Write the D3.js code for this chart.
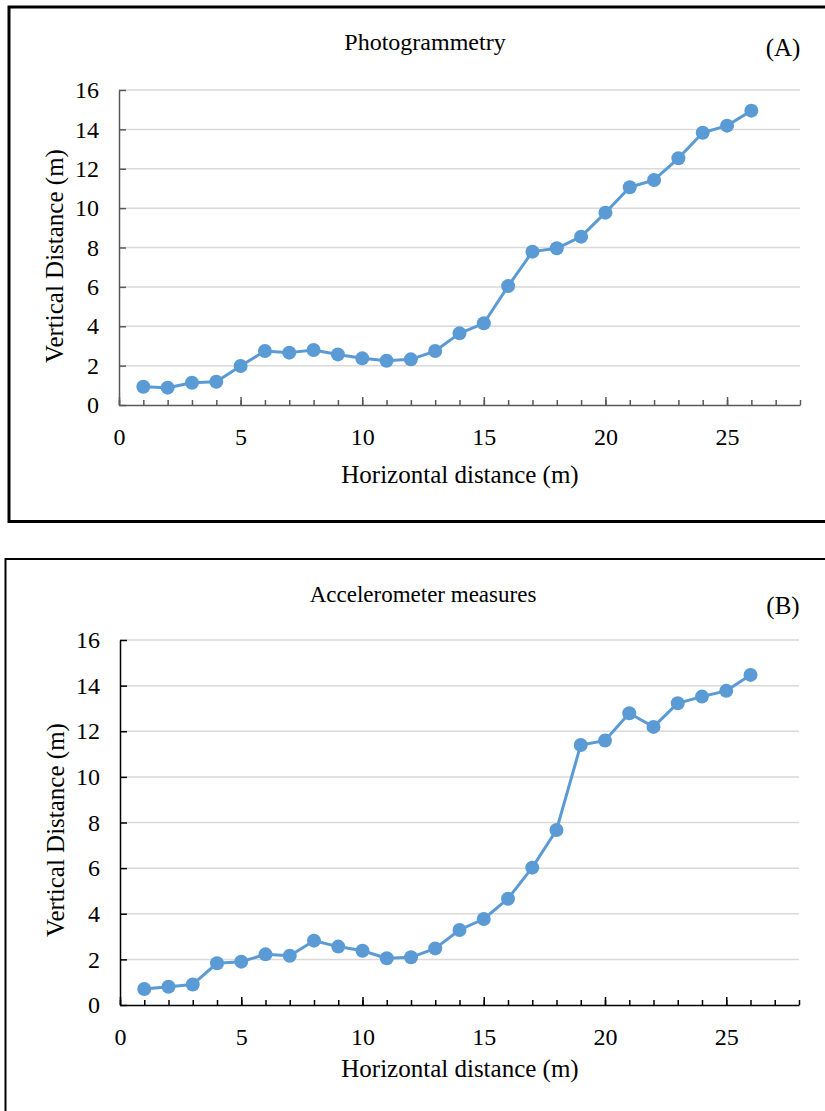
<!DOCTYPE html>
<html>
<head>
<meta charset="utf-8">
<script src="https://cdn.jsdelivr.net/npm/d3@7/dist/d3.min.js"></script>
<style>
  html, body { margin: 0; padding: 0; background: #fff; }
  svg { display: block; }
  text { font-family: "Liberation Serif", "Times New Roman", serif; fill: #000; }
</style>
</head>
<body>
<svg id="chart" width="825" height="1111"></svg>
<script>
// Station positions along the profile (m)
const stations = [1, 2, 3, 4, 5, 6, 7, 8, 9, 10, 11, 12, 13, 14, 15, 16, 17, 18, 19, 20, 21, 22, 23, 24, 25, 26];

// Vertical distance from photogrammetry (m)
const photogrammetry = [0.93, 0.88, 1.13, 1.18, 1.98, 2.74, 2.66, 2.79, 2.57, 2.37, 2.25, 2.32, 2.74,
  3.64, 4.15, 6.04, 7.79, 7.96, 8.55, 9.77, 11.06, 11.43, 12.53, 13.83, 14.19, 14.95];

// Vertical distance from accelerometer measures (m)
const accelerometer = [0.70, 0.80, 0.90, 1.83, 1.90, 2.22, 2.16, 2.82, 2.56, 2.38, 2.05, 2.09, 2.48,
  3.29, 3.77, 4.66, 6.02, 7.67, 11.40, 11.59, 12.79, 12.19, 13.23, 13.52, 13.77, 14.47];

// Axis ticks
const yTickValues = [0, 2, 4, 6, 8, 10, 12, 14, 16];
const xTickLabels = [0, 5, 10, 15, 20, 25];
const xDomain = [0, 28];
const yDomain = [0, 16];

const svg = d3.select("#chart");
svg.append("rect").attr("width", 825).attr("height", 1111).attr("fill", "#fff");

const lineColor = "#5b9bd5";

function drawPanel(cfg) {
  const g = svg.append("g");

  // frame around the panel
  g.append("rect")
    .attr("x", cfg.frame.x).attr("y", cfg.frame.y)
    .attr("width", cfg.frame.w).attr("height", cfg.frame.h)
    .attr("fill", "none").attr("stroke", "#000").attr("stroke-width", cfg.frame.sw);

  const x = d3.scaleLinear().domain(xDomain).range([cfg.left, cfg.right]);
  const y = d3.scaleLinear().domain(yDomain).range([cfg.bottom, cfg.top]);

  // horizontal gridlines
  g.append("g").selectAll("line").data(yTickValues.filter(v => v > 0)).join("line")
    .attr("x1", cfg.left).attr("x2", cfg.right)
    .attr("y1", d => y(d)).attr("y2", d => y(d))
    .attr("stroke", "#d9d9d9").attr("stroke-width", 1.5);

  // y axis: inward ticks, labels on the left
  const yAxis = d3.axisLeft(y).tickValues(yTickValues).tickSizeInner(-7).tickSizeOuter(0).tickPadding(20);
  const ya = g.append("g").attr("transform", `translate(${cfg.left},0)`).call(yAxis);
  ya.select(".domain").attr("stroke", cfg.axisColor).attr("stroke-width", 1.5);
  ya.selectAll(".tick line").attr("stroke", cfg.axisColor).attr("stroke-width", 1.5);
  ya.selectAll(".tick text").attr("font-size", 24).attr("font-family", null).attr("fill", "#000");

  // x axis: minor ticks every metre, longer ticks at labelled values
  const xa = g.append("g").attr("transform", `translate(0,${cfg.bottom})`);
  xa.call(d3.axisBottom(x).ticks(28).tickSizeInner(-5).tickSizeOuter(0).tickFormat(""));
  xa.select(".domain").attr("stroke", cfg.axisColor).attr("stroke-width", 1.5);
  xa.selectAll(".tick line").attr("stroke", cfg.axisColor).attr("stroke-width", 1.5);
  const xb = g.append("g").attr("transform", `translate(0,${cfg.bottom})`);
  xb.call(d3.axisBottom(x).tickValues(xTickLabels).tickSizeInner(-8).tickSizeOuter(0).tickPadding(23));
  xb.select(".domain").remove();
  xb.selectAll(".tick line").attr("stroke", cfg.axisColor).attr("stroke-width", 1.5);
  xb.selectAll(".tick text").attr("font-size", 24).attr("font-family", null).attr("fill", "#000");

  // series
  const pts = stations.map((s, i) => [s, cfg.values[i]]);
  g.append("path").datum(pts)
    .attr("d", d3.line().x(d => x(d[0])).y(d => y(d[1])))
    .attr("fill", "none").attr("stroke", lineColor).attr("stroke-width", 3)
    .attr("stroke-linejoin", "round");
  g.append("g").selectAll("circle").data(pts).join("circle")
    .attr("cx", d => x(d[0])).attr("cy", d => y(d[1])).attr("r", 7)
    .attr("fill", lineColor);

  // titles
  g.append("text").attr("x", cfg.titleX).attr("y", cfg.titleY)
    .attr("text-anchor", "middle").attr("font-size", cfg.titleSize).text(cfg.title);
  g.append("text").attr("x", cfg.tagX).attr("y", cfg.tagY)
    .attr("text-anchor", "middle").attr("font-size", 25).text(cfg.tag);
  g.append("text").attr("x", 460).attr("y", cfg.xTitleY)
    .attr("text-anchor", "middle").attr("font-size", 25).text("Horizontal distance (m)");
  g.append("text")
    .attr("transform", `translate(${cfg.yTitleX},${cfg.yTitleCY}) rotate(-90)`)
    .attr("text-anchor", "middle").attr("font-size", 25).text("Vertical Distance (m)");
}

drawPanel({
  values: photogrammetry,
  frame: { x: 9, y: 7, w: 840, h: 514.5, sw: 3 },
  left: 119, right: 800, top: 90, bottom: 405,
  axisColor: "#595959",
  title: "Photogrammetry", titleX: 425, titleY: 50, titleSize: 24,
  tag: "(A)", tagX: 783, tagY: 56,
  xTitleY: 483, yTitleX: 63, yTitleCY: 256
});

drawPanel({
  values: accelerometer,
  frame: { x: 5.5, y: 559, w: 840, h: 600, sw: 2 },
  left: 120, right: 799, top: 640, bottom: 1005,
  axisColor: "#000",
  title: "Accelerometer measures", titleX: 423, titleY: 602, titleSize: 23,
  tag: "(B)", tagX: 783, tagY: 614,
  xTitleY: 1077, yTitleX: 64, yTitleCY: 830
});
</script>
</body>
</html>
